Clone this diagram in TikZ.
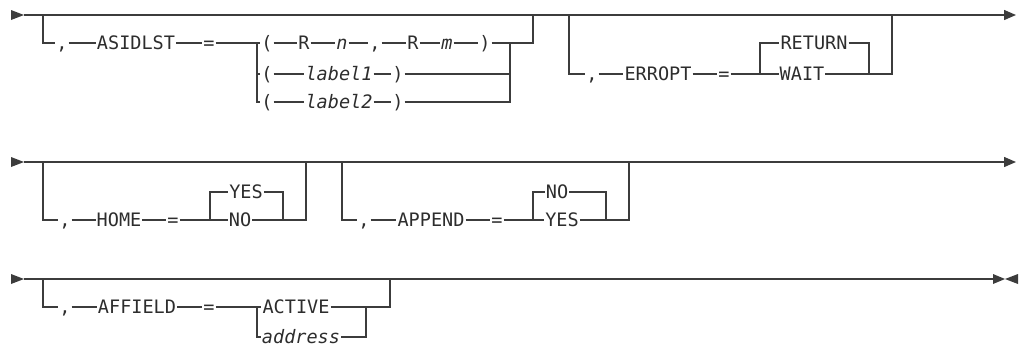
\documentclass[tikz,border=0pt]{standalone}
\usepackage{fontspec}
\setmonofont{DejaVu Sans Mono}
\usetikzlibrary{arrows.meta,calc}
\definecolor{railInk}{RGB}{45,45,45}
\definecolor{railLine}{RGB}{60,60,60}
\begin{document}
\begin{tikzpicture}[x=0.75pt,y=-0.75pt,
        font=\ttfamily\fontsize{13.9}{16}\selectfont,
        kw/.style={inner xsep=0.6pt,inner ysep=0pt,text height=10.1pt,text depth=0pt,text=railInk},
        vr/.style={kw,font=\ttfamily\itshape\fontsize{13.9}{16}\selectfont},
        ln/.style={draw=railLine,line width=1pt},
        go/.style={ln,-{Triangle[length=9pt,width=7.5pt]}}]
        \useasboundingbox (0,0) rectangle (1019,347);
        % row 1: ASIDLST and ERROPT
        \coordinate (s1) at (24,15); \coordinate (e1) at (1016,15);
        \coordinate (a1) at (43,15); \coordinate (a1d) at (43,43);
        \node[kw] (c1) at (62,43) {,};
        \node[kw] (asid) at (136,43) {ASIDLST};
        \node[kw] (eq1) at (209,43) {=};
        \coordinate (b1) at (257,43); \coordinate (b1m) at (257,74); \coordinate (b1l) at (257,102);
        \node[kw] (p1) at (267,43) {(};
        \node[kw] (r1) at (304,43) {R};
        \node[vr] (n1) at (342,43) {n};
        \node[kw] (cm1) at (375,43) {,};
        \node[kw] (r2) at (413,43) {R};
        \node[vr] (m1) at (447,43) {m};
        \node[kw] (q1) at (485,43) {)};
        \node[kw] (p2) at (267,74) {(};
        \node[vr] (lb1) at (339,74) {label1};
        \node[kw] (q2) at (398,74) {)};
        \node[kw] (p3) at (267,102) {(};
        \node[vr] (lb2) at (339,102) {label2};
        \node[kw] (q3) at (398,102) {)};
        \coordinate (j1) at (510,43); \coordinate (j1m) at (510,74); \coordinate (j1l) at (510,102);
        \coordinate (k1) at (533,43); \coordinate (k1t) at (533,15);
        \coordinate (g1) at (569,15); \coordinate (g1d) at (569,74);
        \node[kw] (c2) at (592,74) {,};
        \node[kw] (err) at (658,74) {ERROPT};
        \node[kw] (eq2) at (724,74) {=};
        \coordinate (b2) at (760,74); \coordinate (b2u) at (760,43);
        \node[kw] (ret) at (814,43) {RETURN};
        \node[kw] (wait) at (802,74) {WAIT};
        \coordinate (j2u) at (869,43); \coordinate (j2) at (869,74);
        \coordinate (k2) at (892,74); \coordinate (k2t) at (892,15);
        \fill[railLine] (s1) -- ++(-13,-5) -- ++(0,10) -- cycle;
        \draw[go] (s1) -- (e1);
        \draw[ln] (a1) -- (a1d) -- (c1) -- (asid) -- (eq1) -- (b1) -- (p1) -- (r1) -- (n1) -- (cm1)
                  -- (r2) -- (m1) -- (q1) -- (j1) -- (k1) -- (k1t);
        \draw[ln] (b1) -- (b1l) -- (p3) -- (lb2) -- (q3) -- (j1l) -- (j1);
        \draw[ln] (b1m) -- (p2) -- (lb1) -- (q2) -- (j1m);
        \draw[ln] (g1) -- (g1d) -- (c2) -- (err) -- (eq2) -- (b2) -- (wait) -- (j2) -- (k2) -- (k2t);
        \draw[ln] (b2) -- (b2u) -- (ret) -- (j2u) -- (j2);
        % row 2: HOME and APPEND
        \coordinate (s2) at (24,162); \coordinate (e2) at (1016,162);
        \coordinate (a2) at (43,162); \coordinate (a2d) at (43,220);
        \node[kw] (c3) at (65,220) {,};
        \node[kw] (home) at (119,220) {HOME};
        \node[kw] (eq3) at (173,220) {=};
        \coordinate (b3) at (210,220); \coordinate (b3u) at (210,192);
        \node[kw] (yes1) at (246,192) {YES};
        \node[kw] (no1) at (240,220) {NO};
        \coordinate (j3u) at (283,192); \coordinate (j3) at (283,220);
        \coordinate (k3) at (306,220); \coordinate (k3t) at (306,162);
        \coordinate (g2) at (342,162); \coordinate (g2d) at (342,220);
        \node[kw] (c4) at (364,220) {,};
        \node[kw] (app) at (431,220) {APPEND};
        \node[kw] (eq4) at (497,220) {=};
        \coordinate (b4) at (533,220); \coordinate (b4u) at (533,192);
        \node[kw] (no2) at (557,192) {NO};
        \node[kw] (yes2) at (562,220) {YES};
        \coordinate (j4u) at (606,192); \coordinate (j4) at (606,220);
        \coordinate (k4) at (629,220); \coordinate (k4t) at (629,162);
        \fill[railLine] (s2) -- ++(-13,-5) -- ++(0,10) -- cycle;
        \draw[go] (s2) -- (e2);
        \draw[ln] (a2) -- (a2d) -- (c3) -- (home) -- (eq3) -- (b3) -- (no1) -- (j3) -- (k3) -- (k3t);
        \draw[ln] (b3) -- (b3u) -- (yes1) -- (j3u) -- (j3);
        \draw[ln] (g2) -- (g2d) -- (c4) -- (app) -- (eq4) -- (b4) -- (yes2) -- (j4) -- (k4) -- (k4t);
        \draw[ln] (b4) -- (b4u) -- (no2) -- (j4u) -- (j4);
        % row 3: AFFIELD
        \coordinate (s3) at (24,279); \coordinate (e3) at (993,279);
        \coordinate (a3) at (43,279); \coordinate (a3d) at (43,307);
        \node[kw] (c5) at (65,307) {,};
        \node[kw] (aff) at (137,307) {AFFIELD};
        \node[kw] (eq5) at (209,307) {=};
        \coordinate (b5) at (257,307); \coordinate (b5l) at (257,337);
        \node[kw] (act) at (296,307) {ACTIVE};
        \node[vr] (addr) at (301,337) {address};
        \coordinate (j5) at (366,307); \coordinate (j5l) at (366,337);
        \coordinate (k5) at (390,307); \coordinate (k5t) at (390,279);
        \fill[railLine] (s3) -- ++(-13,-5) -- ++(0,10) -- cycle;
        \draw[ln] (s3) -- (e3);
        \fill[railLine] (e3) -- ++(0,-5) -- ++(12,5) -- ++(-12,5) -- cycle;
        \fill[railLine] ($(e3)+(12,0)$) -- ++(13,-5) -- ++(0,10) -- cycle;
        \draw[ln] (a3) -- (a3d) -- (c5) -- (aff) -- (eq5) -- (b5) -- (act) -- (j5) -- (k5) -- (k5t);
        \draw[ln] (b5) -- (b5l) -- (addr) -- (j5l) -- (j5);
\end{tikzpicture}
\end{document}
